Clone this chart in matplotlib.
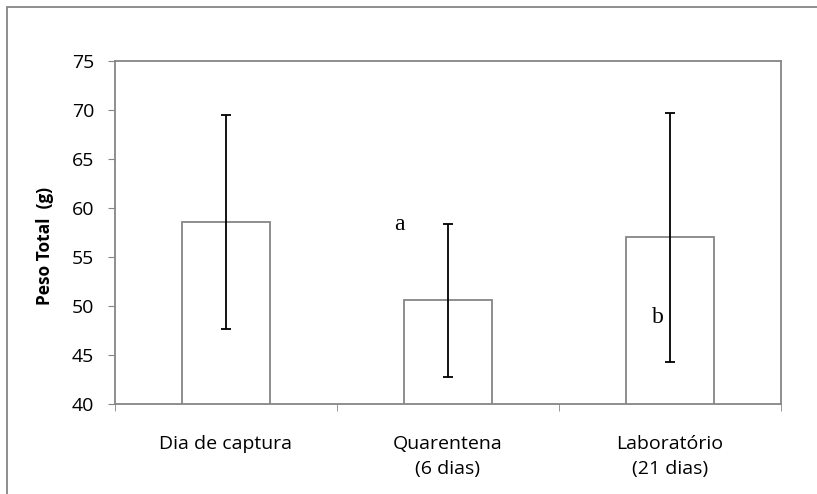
import matplotlib
matplotlib.use("Agg")
import matplotlib.pyplot as plt
import matplotlib.patches as patches
import numpy as np

# mean total weight and standard deviation per stage
categorias = ["Dia de captura", "Quarentena\n(6 dias)", "Laboratório\n(21 dias)"]
peso_medio = [58.6, 50.6, 57.0]
desvio = [10.9, 7.8, 12.7]
letras = ["", "a", "b"]
letras_y = [0, 58.3, 48.8]
letras_dx = [0, -0.22, -0.055]

plt.rcParams['font.family'] = ['Open Sans', 'DejaVu Sans']
cinza = '#868686'

fig = plt.figure(figsize=(8.17, 4.94), dpi=100)
ax = fig.add_axes([115 / 817, 1 - 404 / 494, (781 - 115) / 817, (404 - 61) / 494])

# chart area border
fig.patches.append(patches.Rectangle((7 / 817, -0.1), 1.2, 1 - 7 / 494 + 0.1,
                                     transform=fig.transFigure, fill=False,
                                     edgecolor=cinza, linewidth=1.3))

x = np.arange(len(categorias))
ax.bar(x, peso_medio, width=0.4, color='white', edgecolor=cinza, linewidth=1.3, zorder=2)
ax.errorbar(x, peso_medio, yerr=desvio, fmt='none', ecolor='black', elinewidth=1.3,
            capsize=3.5, capthick=1.3, zorder=3)

for i, t in enumerate(letras):
    if t:
        ax.text(x[i] + letras_dx[i], letras_y[i], t, family='Liberation Serif',
                fontsize=17, ha='center', va='center')

ax.set_xlim(-0.5, 2.5)
ax.set_ylim(40, 75)
ax.set_yticks(np.arange(40, 80, 5))
ax.set_xticks(x)
ax.set_xticklabels(categorias, fontsize=14, linespacing=1.5)
ax.set_xticks([-0.5, 0.5, 1.5, 2.5], minor=True)
ax.tick_params(axis='x', which='major', length=0, pad=22)
ax.tick_params(axis='x', which='minor', length=5, color=cinza, direction='out')
ax.tick_params(axis='y', length=5, color=cinza, direction='out', labelsize=14, pad=10)

for s in ax.spines.values():
    s.set_color(cinza)
    s.set_linewidth(1.3)

ax.set_ylabel("Peso Total  (g)", fontsize=12.5, fontweight='bold')
ax.yaxis.set_label_coords(-0.092, 0.46)

fig.savefig("out.png", dpi=100)
